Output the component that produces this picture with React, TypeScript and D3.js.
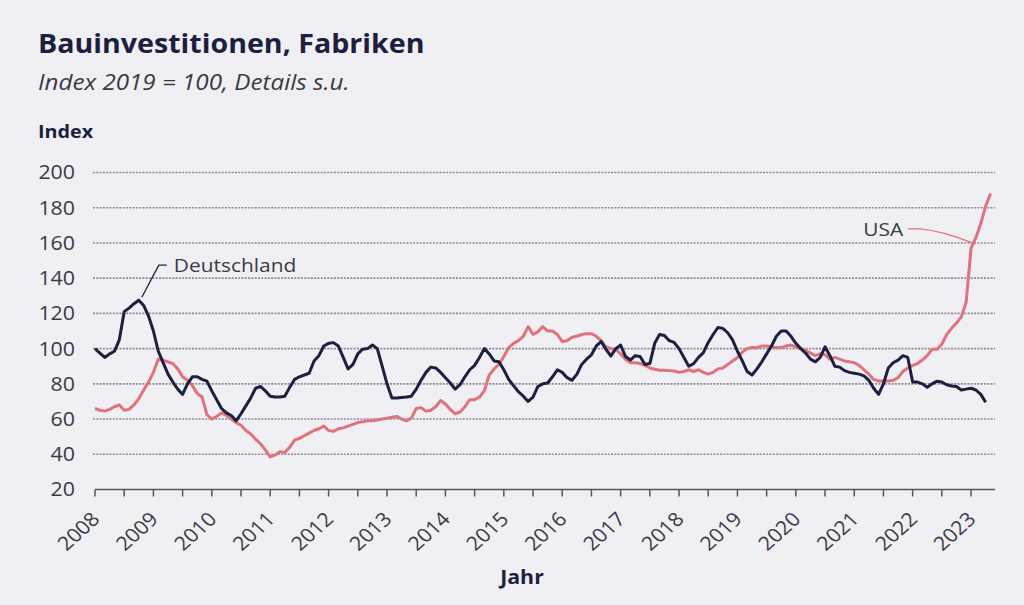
import React from "react";
import * as d3 from "d3";

const START_YEAR = 2008;
const yearTicks = d3.range(2008, 2024);
const yTickValues = [20, 40, 60, 80, 100, 120, 140, 160, 180, 200];

const deutschland = [
  100, 97.5, 95, 97, 98.5, 105, 121, 123, 125.5, 127.5, 124.5, 118.5,
  110, 98.5, 92, 85.5, 81, 77, 74, 80, 84, 84, 82.5, 81.5,
  76, 71, 66, 63.5, 62, 59, 63, 67.5, 72, 77.5, 78.5, 76,
  73, 72.5, 72.5, 73, 78, 82.5, 84, 85, 86, 93, 96, 101.5,
  103, 103.4, 101.5, 95, 88.5, 91, 97, 99.7, 100, 102, 100, 90,
  80, 72, 72, 72.3, 72.5, 73, 77, 82, 86.5, 89.5, 89, 86.5,
  83.5, 80.5, 77, 79.5, 84, 88, 90.5, 95, 100, 97, 93, 92.5,
  88, 82.5, 79, 75.5, 73, 70, 72.5, 78.5, 80, 80.5, 84, 88,
  86.5, 83.5, 82, 85.4, 91, 94, 96.5, 101.5, 104, 99.5, 95.8, 100,
  102, 95.5, 93.5, 96, 95.5, 91, 91.5, 103, 108, 107.5, 104.5, 103.5,
  100, 95, 90, 91.5, 95, 97.7, 103.5, 108, 112, 111.5, 109, 105,
  98.5, 93, 87, 85, 88.5, 92.5, 97, 101.5, 107, 110, 110, 107,
  103, 100, 97.5, 94, 92.5, 95, 101, 96, 90, 89.5, 87.5, 86.5,
  86, 85.5, 84.5, 82, 77.5, 74, 80, 89, 92, 93.5, 96, 95,
  81, 81, 80, 78, 80, 81.5, 81, 79.5, 78.8, 78.5, 76.5, 77,
  77.5, 76.5, 74, 69.5,
];

const usa = [
  66, 65, 64.5, 65.5, 67, 68, 65, 65.5, 68, 71.5, 76.5, 81,
  86.5, 94, 93.5, 92.5, 91.5, 88.5, 84, 82, 79, 74.5, 72.5, 62.5,
  60, 61.5, 63.5, 62, 60, 58, 56.5, 53.5, 51.5, 48.5, 46, 42.5,
  38.5, 39.5, 41.5, 41, 44, 48, 49, 50.5, 52, 53.5, 54.5, 56,
  53.5, 53, 54.5, 55, 56, 57, 58, 58.5, 59, 59, 59.5, 60,
  60.5, 61, 61.5, 60, 59, 60.5, 66, 66.5, 64.5, 65, 67, 70.5,
  68.5, 65.5, 63, 64, 67, 71, 71, 72.5, 76, 85, 88.5, 91,
  95.5, 100.5, 103, 104.5, 107, 112.5, 108, 109.5, 112.5, 110, 110, 108,
  104, 104.5, 106.5, 107, 108, 108.5, 108.5, 107, 104.5, 101, 100, 99.5,
  97, 94, 92, 92, 91.5, 90.5, 89, 88.3, 87.7, 87.7, 87.5, 87.3,
  86.5, 87, 88, 87, 88, 86.5, 85.5, 86.5, 88.5, 89, 91, 93,
  95, 98, 100, 100.6, 100.5, 101.5, 101.5, 101, 100.5, 100.6, 101.5, 102,
  101, 100, 99, 97.5, 96, 97, 96.5, 94, 95, 94, 93, 92.5,
  92, 90.5, 88, 85.5, 82.5, 81.6, 81.6, 81.6, 82, 83.5, 87, 89,
  90.5, 91.5, 93.5, 96, 99.7, 99.7, 102.5, 108, 111.5, 114.5, 118, 126.5,
  157, 163, 171, 181, 188,
];

const TITLE = "Bauinvestitionen, Fabriken";
const SUBTITLE = "Index 2019 = 100, Details s.u.";
const Y_LABEL = "Index";
const X_LABEL = "Jahr";
const DE_LABEL = "Deutschland";
const US_LABEL = "USA";

const FONT = "'Open Sans', 'Noto Sans', sans-serif";
const BG = "#efeff4";
const NAVY = "#1c1f40";
const RED = "#e0727c";
const TEXT = "#3a3a44";
const SX = 1.1;

type STextProps = {
  x: number;
  y: number;
  rotate?: number;
  children: React.ReactNode;
  [k: string]: any;
};

function SText({ x, y, rotate = 0, children, ...rest }: STextProps) {
  return (
    <g transform={`translate(${x},${y}) scale(${SX},1) rotate(${rotate})`}>
      <text x={0} y={0} {...rest}>
        {children}
      </text>
    </g>
  );
}

export default function App() {
  const W = 1024;
  const H = 605;
  const x = d3.scaleLinear().domain([2008, 2023.41]).range([95, 995]);
  const y = d3.scaleLinear().domain([20, 200]).range([489.5, 172.5]);
  const t = (i: number) => START_YEAR + i / 12;

  const line = d3
    .line<number>()
    .x((_, i) => x(t(i)))
    .y((v) => y(v))
    .curve(d3.curveLinear);

  const halfTicks = d3.range(2008, 2023.01, 0.5);

  const dePeakX = x(t(9));
  const dePeakY = y(deutschland[9]);
  const usX = x(2023.02);
  const usY = y(160);

  return (
    <svg
      width={W}
      height={H}
      style={{ position: "absolute", left: 0, top: 0, fontFamily: FONT }}
    >
      <rect x={0} y={0} width={W} height={H} fill={BG} />
      <SText x={38} y={53} fontSize={26} fontWeight={700} fill={NAVY}>
        {TITLE}
      </SText>
      <SText x={38} y={90} fontSize={22} fontStyle="italic" fill={TEXT}>
        {SUBTITLE}
      </SText>
      <SText x={38} y={138} fontSize={18} fontWeight={700} fill={NAVY}>
        {Y_LABEL}
      </SText>

      {yTickValues
        .filter((v) => v > 20)
        .map((v) => (
          <line
            key={"g" + v}
            x1={93}
            x2={995}
            y1={y(v)}
            y2={y(v)}
            stroke="#8a8a93"
            strokeWidth={1.6}
            strokeDasharray="2 1.3"
          />
        ))}
      {yTickValues.map((v) => (
        <SText
          key={"yl" + v}
          x={75}
          y={y(v)}
          dy="0.36em"
          textAnchor="end"
          fontSize={19.4}
          fill={TEXT}
        >
          {v}
        </SText>
      ))}

      <line x1={95} x2={995} y1={y(20)} y2={y(20)} stroke="#55555c" strokeWidth={1.5} />
      {halfTicks.map((v) => (
        <line
          key={"t" + v}
          x1={x(v)}
          x2={x(v)}
          y1={y(20)}
          y2={y(20) + 7}
          stroke="#55555c"
          strokeWidth={1.5}
        />
      ))}
      {yearTicks.map((yr) => (
        <SText
          key={"xl" + yr}
          x={x(yr) + 6}
          y={y(20) + 31}
          rotate={-45}
          textAnchor="end"
          fontSize={19.4}
          fill={TEXT}
        >
          {yr}
        </SText>
      ))}
      <SText x={522} y={584} textAnchor="middle" fontSize={19.4} fontWeight={700} fill={NAVY}>
        {X_LABEL}
      </SText>

      <path d={line(usa) || ""} fill="none" stroke={RED} strokeWidth={3} strokeLinejoin="round" />
      <path d={line(deutschland) || ""} fill="none" stroke={NAVY} strokeWidth={3} strokeLinejoin="round" />

      <path
        d={`M${dePeakX + 3},${dePeakY - 3} L${dePeakX + 20},${dePeakY - 35} L${dePeakX + 28},${dePeakY - 35}`}
        fill="none"
        stroke={NAVY}
        strokeWidth={1.3}
      />
      <SText x={dePeakX + 35} y={dePeakY - 28} fontSize={19} fill={TEXT}>
        {DE_LABEL}
      </SText>
      <path
        d={`M${usX - 64},${usY - 14} L${usX - 52},${usY - 14} Q${usX - 30},${usY - 12} ${usX},${usY}`}
        fill="none"
        stroke={RED}
        strokeWidth={1.3}
      />
      <SText x={usX - 69} y={usY - 7} textAnchor="end" fontSize={19} fill={TEXT}>
        {US_LABEL}
      </SText>
    </svg>
  );
}
